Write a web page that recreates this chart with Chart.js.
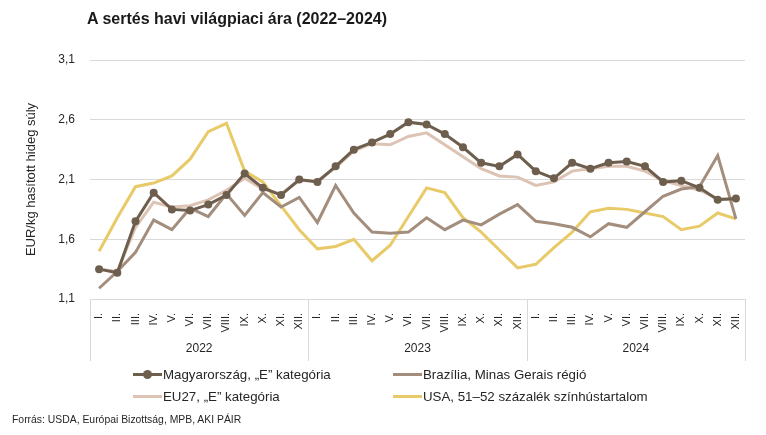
<!DOCTYPE html>
<html>
<head>
<meta charset="utf-8">
<script src="https://cdn.jsdelivr.net/npm/chart.js@4/dist/chart.umd.min.js"></script>
<style>
    body { margin: 0; background: #fff; font-family: "Liberation Sans", Arial, sans-serif; }
    #wrap { position: relative; width: 766px; height: 435px; }
    #title { position: absolute; left: 87px; top: 10px; font-size: 16px; font-weight: bold; color: #1a1a1a; }
    #legend { position: absolute; left: 0; top: 366px; width: 766px; }
    .item { position: absolute; font-size: 13.3px; color: #262626; white-space: nowrap; display: flex; align-items: center; }
    .swatch { position: relative; width: 29px; height: 3px; margin-right: 1px; }
    .swatch.dot::after { content: ""; position: absolute; left: 10px; top: -3px; width: 9px; height: 9px; border-radius: 50%; background: inherit; }
    #source { position: absolute; left: 12px; top: 414px; font-size: 10.4px; color: #262626; }
</style>
</head>
<body>
<div id="wrap">
    <canvas id="chart" width="766" height="435"></canvas>
    <div id="title">A sertés havi világpiaci ára (2022–2024)</div>
    <div id="legend"></div>
    <div id="source">Forrás: USDA, Európai Bizottság, MPB, AKI PÁIR</div>
</div>
<script>
// data
const years = ['2022', '2023', '2024'];
const months = ['I.', 'II.', 'III.', 'IV.', 'V.', 'VI.', 'VII.', 'VIII.', 'IX.', 'X.', 'XI.', 'XII.'];
const yTickValues = [1.1, 1.6, 2.1, 2.6, 3.1];

const seriesNames = ['Magyarország, „E” kategória', 'Brazília, Minas Gerais régió', 'EU27, „E” kategória', 'USA, 51–52 százalék színhústartalom'];

const magyar = [1.35, 1.32, 1.75, 1.99, 1.85, 1.84, 1.89, 1.97, 2.15, 2.03, 1.97, 2.10,
                2.08, 2.21, 2.35, 2.41, 2.48, 2.58, 2.56, 2.48, 2.37, 2.24, 2.21, 2.31,
                2.17, 2.11, 2.24, 2.19, 2.24, 2.25, 2.21, 2.08, 2.09, 2.03, 1.93, 1.94];
const brazil = [1.19, 1.33, 1.49, 1.76, 1.68, 1.86, 1.79, 1.98, 1.80, 1.99, 1.87, 1.95,
                1.74, 2.05, 1.82, 1.66, 1.65, 1.66, 1.78, 1.68, 1.76, 1.72, 1.81, 1.89,
                1.75, 1.73, 1.70, 1.62, 1.73, 1.70, 1.83, 1.96, 2.02, 2.04, 2.30, 1.77];
const eu27 = [1.35, 1.33, 1.70, 1.91, 1.87, 1.88, 1.93, 2.01, 2.11, 2.02, 1.98, 2.09,
              2.09, 2.20, 2.34, 2.40, 2.39, 2.46, 2.49, 2.39, 2.29, 2.19, 2.13, 2.12,
              2.05, 2.08, 2.17, 2.19, 2.21, 2.21, 2.17, 2.09, 2.05, 2.01, 1.94, 1.93];
const usa = [1.50, 1.78, 2.04, 2.07, 2.13, 2.27, 2.50, 2.57, 2.17, 2.08, 1.88, 1.68,
             1.52, 1.54, 1.60, 1.42, 1.55, 1.79, 2.03, 1.99, 1.78, 1.66, 1.51, 1.36,
             1.39, 1.53, 1.66, 1.83, 1.86, 1.85, 1.82, 1.79, 1.68, 1.71, 1.82, 1.77];

const colors = ['#6e5e4e', '#a38e7e', '#dcc3b3', '#e8ca68'];
const labels = years.flatMap(() => months);

// year captions and separators under the month labels
const yearAxis = {
    id: 'yearAxis',
    afterDraw(chart) {
        const ctx = chart.ctx;
        const x = chart.scales.x;
        const bottom = chart.chartArea.bottom;
        const step = x.getPixelForValue(1) - x.getPixelForValue(0);
        ctx.save();
        ctx.strokeStyle = '#d9d9d9';
        ctx.lineWidth = 1;
        for (let k = 0; k <= years.length; k++) {
            const px = Math.round(x.getPixelForValue(k * 12) - step / 2) + 0.5;
            ctx.beginPath();
            ctx.moveTo(px, bottom);
            ctx.lineTo(px, bottom + 62);
            ctx.stroke();
        }
        ctx.fillStyle = '#262626';
        ctx.font = '12px "Liberation Sans", Arial, sans-serif';
        ctx.textAlign = 'center';
        ctx.textBaseline = 'middle';
        years.forEach((y, k) => {
            const cx = (x.getPixelForValue(k * 12) + x.getPixelForValue(k * 12 + 11)) / 2;
            ctx.fillText(y, cx, bottom + 50);
        });
        ctx.restore();
    }
};

const ctx = document.getElementById('chart').getContext('2d');
new Chart(ctx, {
    type: 'line',
    data: {
        labels: labels,
        datasets: [magyar, brazil, eu27, usa].map((d, i) => ({
            label: seriesNames[i],
            data: d,
            borderColor: colors[i],
            backgroundColor: colors[i],
            borderWidth: 3,
            tension: 0,
            pointRadius: i === 0 ? 4 : 0,
            pointHoverRadius: i === 0 ? 4 : 0,
            pointBorderWidth: 0
        }))
    },
    options: {
        responsive: false,
        animation: false,
        layout: { padding: { left: 20, right: 21, top: 60, bottom: 71 } },
        plugins: {
            legend: { display: false },
            tooltip: { enabled: false }
        },
        scales: {
            x: {
                offset: true,
                grid: { display: false },
                border: { display: true, color: '#d9d9d9' },
                ticks: {
                    autoSkip: false,
                    minRotation: 90,
                    maxRotation: 90,
                    padding: 6,
                    color: '#262626',
                    font: { family: '"Liberation Sans", Arial, sans-serif', size: 11 }
                },
                afterFit(scale) { scale.height = 65; }
            },
            y: {
                min: 1.1,
                max: 3.1,
                afterBuildTicks(scale) { scale.ticks = yTickValues.map(v => ({ value: v })); },
                afterFit(scale) { scale.width = 70; },
                grid: { color: '#d9d9d9', drawTicks: false },
                border: { display: false },
                ticks: {
                    padding: 15,
                    color: '#262626',
                    font: { family: '"Liberation Sans", Arial, sans-serif', size: 12 },
                    callback: v => v.toFixed(1).replace('.', ',')
                },
                title: {
                    display: true,
                    text: 'EUR/kg hasított hideg súly',
                    color: '#262626',
                    font: { family: '"Liberation Sans", Arial, sans-serif', size: 13 }
                }
            }
        }
    },
    plugins: [yearAxis]
});

// two-column legend like the original
const legendPos = [[133, 9], [393, 9], [133, 31], [393, 31]];
const legend = document.getElementById('legend');
seriesNames.forEach((name, i) => {
    const item = document.createElement('div');
    item.className = 'item';
    item.style.left = legendPos[i][0] + 'px';
    item.style.top = (legendPos[i][1] - 8) + 'px';
    const sw = document.createElement('span');
    sw.className = 'swatch' + (i === 0 ? ' dot' : '');
    sw.style.background = colors[i];
    item.appendChild(sw);
    item.appendChild(document.createTextNode(name));
    legend.appendChild(item);
});
</script>
</body>
</html>
